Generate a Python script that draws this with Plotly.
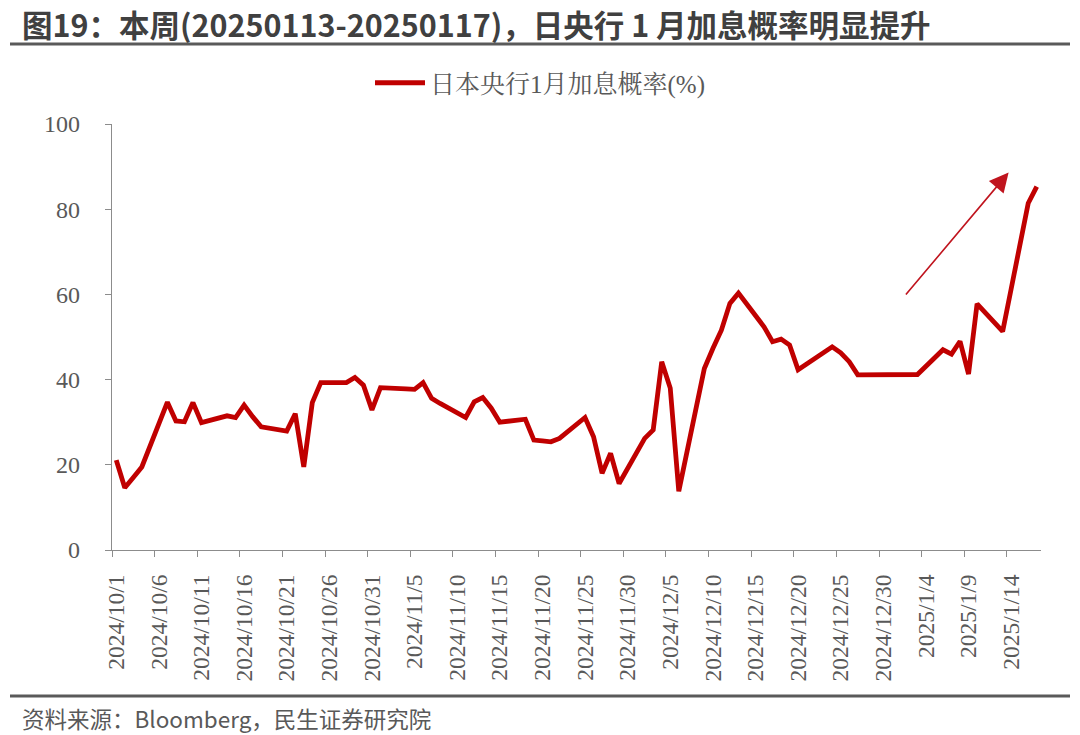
import pandas as pd
import plotly.graph_objects as go

# ---------------- data ----------------
dates = [
    "2024-10-01", "2024-10-02", "2024-10-03", "2024-10-04",
    "2024-10-07", "2024-10-08", "2024-10-09", "2024-10-10", "2024-10-11",
    "2024-10-14", "2024-10-15", "2024-10-16", "2024-10-17", "2024-10-18",
    "2024-10-21", "2024-10-22", "2024-10-23", "2024-10-24", "2024-10-25",
    "2024-10-28", "2024-10-29", "2024-10-30", "2024-10-31", "2024-11-01",
    "2024-11-04", "2024-11-05", "2024-11-06", "2024-11-07", "2024-11-08",
    "2024-11-11", "2024-11-12", "2024-11-13", "2024-11-14", "2024-11-15",
    "2024-11-18", "2024-11-19", "2024-11-20", "2024-11-21", "2024-11-22",
    "2024-11-25", "2024-11-26", "2024-11-27", "2024-11-28", "2024-11-29",
    "2024-12-02", "2024-12-03", "2024-12-04", "2024-12-05", "2024-12-06",
    "2024-12-09", "2024-12-10", "2024-12-11", "2024-12-12", "2024-12-13",
    "2024-12-16", "2024-12-17", "2024-12-18", "2024-12-19", "2024-12-20",
    "2024-12-23", "2024-12-24", "2024-12-25", "2024-12-26", "2024-12-27",
    "2024-12-30", "2024-12-31", "2025-01-01", "2025-01-02", "2025-01-03",
    "2025-01-06", "2025-01-07", "2025-01-08", "2025-01-09", "2025-01-10",
    "2025-01-13", "2025-01-14", "2025-01-15", "2025-01-16", "2025-01-17",
]
hike_prob = [
    21.1, 14.6, 17.0, 19.5,
    34.7, 30.3, 30.1, 34.6, 29.9,
    31.5, 31.1, 34.0, 31.3, 28.9,
    27.9, 32.0, 19.5, 34.6, 39.3,
    39.3, 40.5, 38.7, 32.9, 38.1,
    37.8, 37.7, 39.3, 35.6, 34.4,
    31.1, 34.8, 35.8, 33.3, 30.0,
    30.7, 25.8, 25.6, 25.4, 26.2,
    31.1, 26.6, 18.0, 22.7, 15.6,
    26.2, 28.2, 44.2, 38.0, 13.8,
    42.6, 47.3, 51.6, 57.9, 60.3,
    52.4, 48.9, 49.5, 48.1, 42.3,
    46.3, 47.7, 46.3, 44.2, 41.1,
    41.2, 41.2, 41.2, 41.2, 41.2,
    47.0, 46.0, 49.0, 41.3, 57.8,
    51.3, 61.3, 71.4, 81.4, 85.3,
]
tick_dates = [
    "2024-10-01", "2024-10-06", "2024-10-11", "2024-10-16", "2024-10-21",
    "2024-10-26", "2024-10-31", "2024-11-05", "2024-11-10", "2024-11-15",
    "2024-11-20", "2024-11-25", "2024-11-30", "2024-12-05", "2024-12-10",
    "2024-12-15", "2024-12-20", "2024-12-25", "2024-12-30", "2025-01-04",
    "2025-01-09", "2025-01-14",
]
tick_labels = [
    "2024/10/1", "2024/10/6", "2024/10/11", "2024/10/16", "2024/10/21",
    "2024/10/26", "2024/10/31", "2024/11/5", "2024/11/10", "2024/11/15",
    "2024/11/20", "2024/11/25", "2024/11/30", "2024/12/5", "2024/12/10",
    "2024/12/15", "2024/12/20", "2024/12/25", "2024/12/30", "2025/1/4",
    "2025/1/9", "2025/1/14",
]
axis_start = "2024-10-01"
axis_end = "2025-01-17"
y_ticks = [0, 20, 40, 60, 80, 100]
series_name = "日本央行1月加息概率(%)"
title_text = "图19：本周(20250113-20250117)，日央行 1 月加息概率明显提升"
source_text = "资料来源：Bloomberg，民生证券研究院"
# arrow (data coords: date, value)
arrow_tail = ("2025-01-01 12:00", 59.6)
arrow_head = ("2025-01-13 16:48", 88.6)

# ---------------- conversion ----------------
t0 = pd.Timestamp(axis_start)
def day_of(d):
    return (pd.Timestamp(d) - t0) / pd.Timedelta(days=1)

x_days = [day_of(d) for d in dates]
tick_days = [day_of(d) for d in tick_dates]
x_lo = day_of(axis_start) - 0.5
x_hi = day_of(axis_end) + 0.5

# ---------------- layout helpers ----------------
W, H = 1080, 735
L, R, T, B = 112, 39, 124, 185
PW, PH = W - L - R, H - T - B
def px(x):
    return (x - L) / PW
def py(y):
    return (H - B - y) / PH

SERIF = "Times New Roman, Liberation Serif, Noto Serif CJK SC, Noto Sans CJK SC, serif"
SANS = "Noto Sans CJK SC, Microsoft YaHei, sans-serif"
RED = "#C00000"
AX = "#8C8C8C"
TXT = "#595959"

fig = go.Figure()
fig.add_trace(go.Scatter(
    x=x_days, y=hike_prob, mode="lines", name=series_name,
    line=dict(color=RED, width=4.8), showlegend=True,
))

fig.update_layout(
    width=W, height=H,
    margin=dict(l=L, r=R, t=T, b=B),
    paper_bgcolor="white", plot_bgcolor="white",
    showlegend=True,
    legend=dict(
        orientation="h", x=px(540), xanchor="center", y=py(83), yanchor="middle",
        font=dict(family=SERIF, size=25, color=TXT),
        itemwidth=50,
    ),
    xaxis=dict(
        range=[x_lo, x_hi], showgrid=False, zeroline=False,
        showline=True, linecolor=AX, linewidth=1.2,
        tickmode="array", tickvals=tick_days, ticktext=tick_labels,
        ticks="", tickangle=-90, ticklabelstandoff=14,
        tickfont=dict(family=SERIF, size=23.5, color=TXT),
        minor=dict(tickmode="array", tickvals=[d - 0.5 for d in tick_days],
                   ticks="outside", ticklen=6, tickcolor=AX, tickwidth=1.2),
    ),
    yaxis=dict(
        range=[0, 100], showgrid=False, zeroline=False,
        showline=True, linecolor=AX, linewidth=1.2,
        tickmode="array", tickvals=y_ticks,
        ticks="outside", ticklen=6, tickcolor=AX, tickwidth=1.2,
        ticklabelstandoff=20,
        tickfont=dict(family=SERIF, size=24, color=TXT),
    ),
)

# title, rules, source
fig.add_annotation(
    xref="paper", yref="paper", x=px(20), y=py(24), xanchor="left", yanchor="middle",
    text="<b>" + title_text + "</b>", showarrow=False,
    font=dict(family=SANS, size=30.5, color="#404040"),
)
fig.add_shape(type="line", xref="paper", yref="paper",
              x0=px(10), x1=px(1070), y0=py(44), y1=py(44),
              line=dict(color="#5A5A5A", width=3))
fig.add_shape(type="line", xref="paper", yref="paper",
              x0=px(10), x1=px(1070), y0=py(696), y1=py(696),
              line=dict(color="#5A5A5A", width=3))
fig.add_annotation(
    xref="paper", yref="paper", x=px(20), y=py(718), xanchor="left", yanchor="middle",
    text=source_text, showarrow=False,
    font=dict(family=SANS, size=22.5, color=TXT),
)

# arrow
fig.add_annotation(
    x=day_of(arrow_head[0]), y=arrow_head[1],
    ax=day_of(arrow_tail[0]), ay=arrow_tail[1],
    xref="x", yref="y", axref="x", ayref="y",
    text="", showarrow=True, arrowhead=2, arrowsize=2.4, arrowwidth=1.6,
    arrowcolor="#C0141E",
)

fig.write_html("out.html", config={"displayModeBar": False},
               post_script="document.body.style.margin='0px';")
